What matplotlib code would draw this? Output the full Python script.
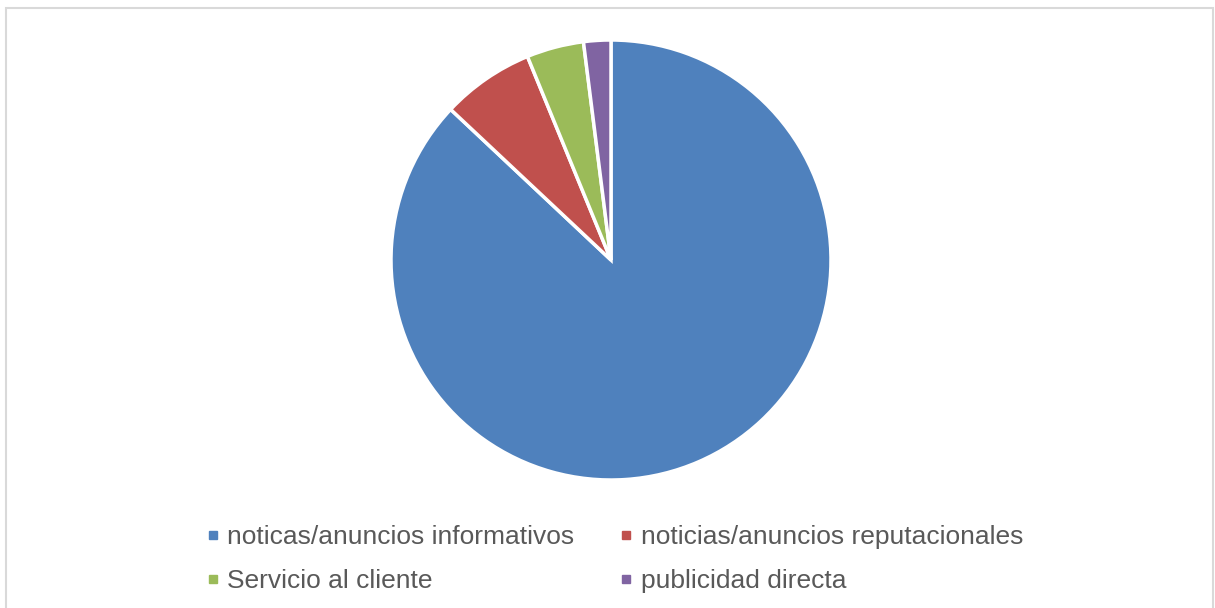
import matplotlib
matplotlib.use("Agg")
import matplotlib.pyplot as plt
from matplotlib.lines import Line2D
from matplotlib.patches import Rectangle

# ── data ──────────────────────────────────────────────────────────────────────
CATEGORIES = [
    "noticas/anuncios informativos",
    "noticias/anuncios reputacionales",
    "Servicio al cliente",
    "publicidad directa",
]
SHARES = [87.0, 6.8, 4.2, 2.0]
COLORS = ["#4F81BD", "#C0504D", "#9BBB59", "#8064A2"]

W, H = 1215, 608
plt.rcParams["font.family"] = ["Liberation Sans", "DejaVu Sans"]

fig = plt.figure(figsize=(W / 100, H / 100), dpi=100)

# light grey chart-area border
fig.patches.append(Rectangle((6 / W, -0.01), (1213 - 6) / W, 1 - 8 / H + 0.01,
                             transform=fig.transFigure, fill=False,
                             edgecolor="#d9d9d9", linewidth=1.5))

# pie centred at (611, 260) px with radius 220 px
cx, cy, r = 611, 260, 220
ax = fig.add_axes([(cx - r) / W, (H - cy - r) / H, 2 * r / W, 2 * r / H])
ax.pie(SHARES, colors=COLORS, startangle=90, counterclock=False, radius=1,
       wedgeprops={"edgecolor": "white", "linewidth": 2.5})
ax.set_xlim(-1, 1)
ax.set_ylim(-1, 1)
ax.set_aspect("equal")
ax.axis("off")

# legend, two columns under the pie, filled row by row
handles = [Line2D([], [], linestyle="none", marker="s", markersize=6,
                  markerfacecolor=c, markeredgecolor=c) for c in COLORS]
order = [0, 2, 1, 3]
fig.legend([handles[i] for i in order], [CATEGORIES[i] for i in order],
           ncol=2, loc="upper left",
           bbox_to_anchor=(205 / W, 1 - 525 / H), frameon=False,
           fontsize=19, labelcolor="#595959", handlelength=0.6,
           handletextpad=0.25, columnspacing=1.65, labelspacing=0.75,
           borderpad=0, borderaxespad=0)

fig.savefig("out.png", dpi=100)
